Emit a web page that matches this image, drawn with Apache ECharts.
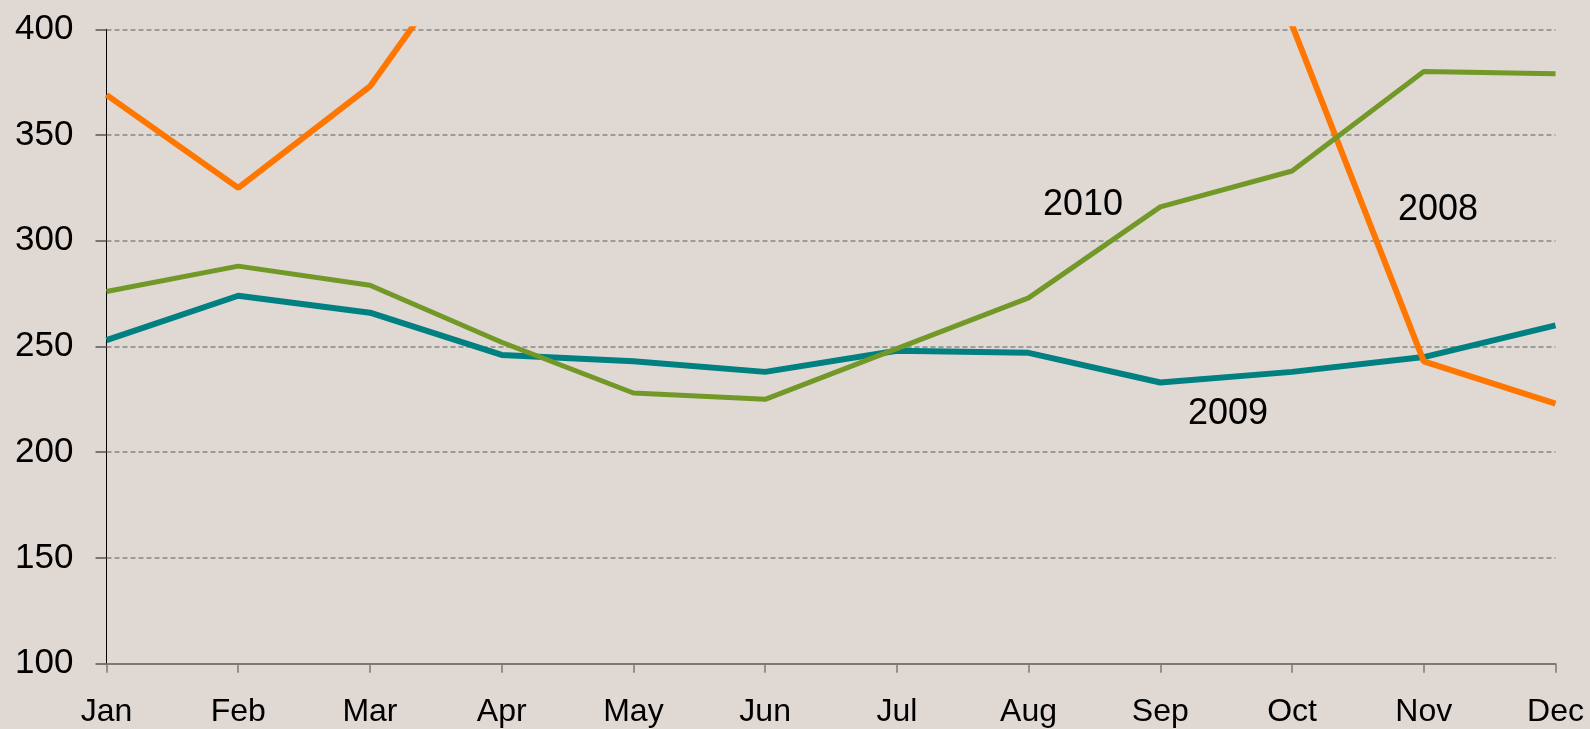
<!DOCTYPE html>
<html>
<head>
<meta charset="utf-8">
<script src="https://cdn.jsdelivr.net/npm/echarts@6/dist/echarts.min.js"></script>
<style>
  html, body { margin: 0; padding: 0; background: #dfd8d3; }
  #chart { width: 1590px; height: 729px; }
</style>
</head>
<body>
<div id="chart"></div>
<script>
// 月份
const months = ['Jan', 'Feb', 'Mar', 'Apr', 'May', 'Jun', 'Jul', 'Aug', 'Sep', 'Oct', 'Nov', 'Dec']
// 2008 (Apr-Sep run above the top of the axis, estimated)
const y2008 = [369, 325, 373, 460, 480, 500, 510, 490, 450, 402, 243, 223]
const y2009 = [253, 274, 266, 246, 243, 238, 248, 247, 233, 238, 245, 260]
const y2010 = [276, 288, 279, 252, 228, 225, 249, 273, 316, 333, 380, 379]
const yTicks = [100, 150, 200, 250, 300, 350, 400]

const font = 'Liberation Sans, Arial, sans-serif'

let chart = echarts.init(document.getElementById('chart'))
let option = {
  backgroundColor: '#dfd8d3',
  animation: false,
  grid: {
    left: 106.5,
    right: 34.5,
    top: 29.3,
    bottom: 65.3
  },
  xAxis: {
    type: 'category',
    data: months,
    boundaryGap: false,
    axisLine: { lineStyle: { color: '#7a7a7a', width: 2 } },
    axisTick: { show: true, length: 9, lineStyle: { color: '#7a7a7a', width: 1.5 } },
    axisLabel: { color: '#000', fontFamily: font, fontSize: 32, margin: 32 },
    splitLine: { show: false }
  },
  yAxis: {
    type: 'value',
    min: yTicks[0],
    max: yTicks[yTicks.length - 1],
    interval: 50,
    axisLine: { show: true, lineStyle: { color: '#000', width: 1 } },
    axisTick: { show: true, length: 11, lineStyle: { color: '#555', width: 1.5 } },
    axisLabel: { color: '#000', fontFamily: font, fontSize: 35, margin: 33, padding: [4, 0, 0, 0] },
    splitLine: { lineStyle: { color: '#888', width: 1.5, type: [5, 3] } }
  },
  series: [
    {
      name: '2008',
      type: 'line',
      data: y2008,
      symbol: 'none',
      clip: true,
      lineStyle: { color: '#ff7700', width: 6 },
      z: 3
    },
    {
      name: '2009',
      type: 'line',
      data: y2009,
      symbol: 'none',
      lineStyle: { color: '#008080', width: 6 },
      z: 2
    },
    {
      name: '2010',
      type: 'line',
      data: y2010,
      symbol: 'none',
      lineStyle: { color: '#729828', width: 5 },
      z: 4
    }
  ],
  graphic: [
    { type: 'text', x: 1083, y: 205, style: { text: '2010', fontFamily: font, fontSize: 36, fill: '#000', align: 'center', verticalAlign: 'middle' } },
    { type: 'text', x: 1438, y: 210, style: { text: '2008', fontFamily: font, fontSize: 36, fill: '#000', align: 'center', verticalAlign: 'middle' } },
    { type: 'text', x: 1228, y: 414, style: { text: '2009', fontFamily: font, fontSize: 36, fill: '#000', align: 'center', verticalAlign: 'middle' } }
  ]
}
chart.setOption(option)
</script>
</body>
</html>
